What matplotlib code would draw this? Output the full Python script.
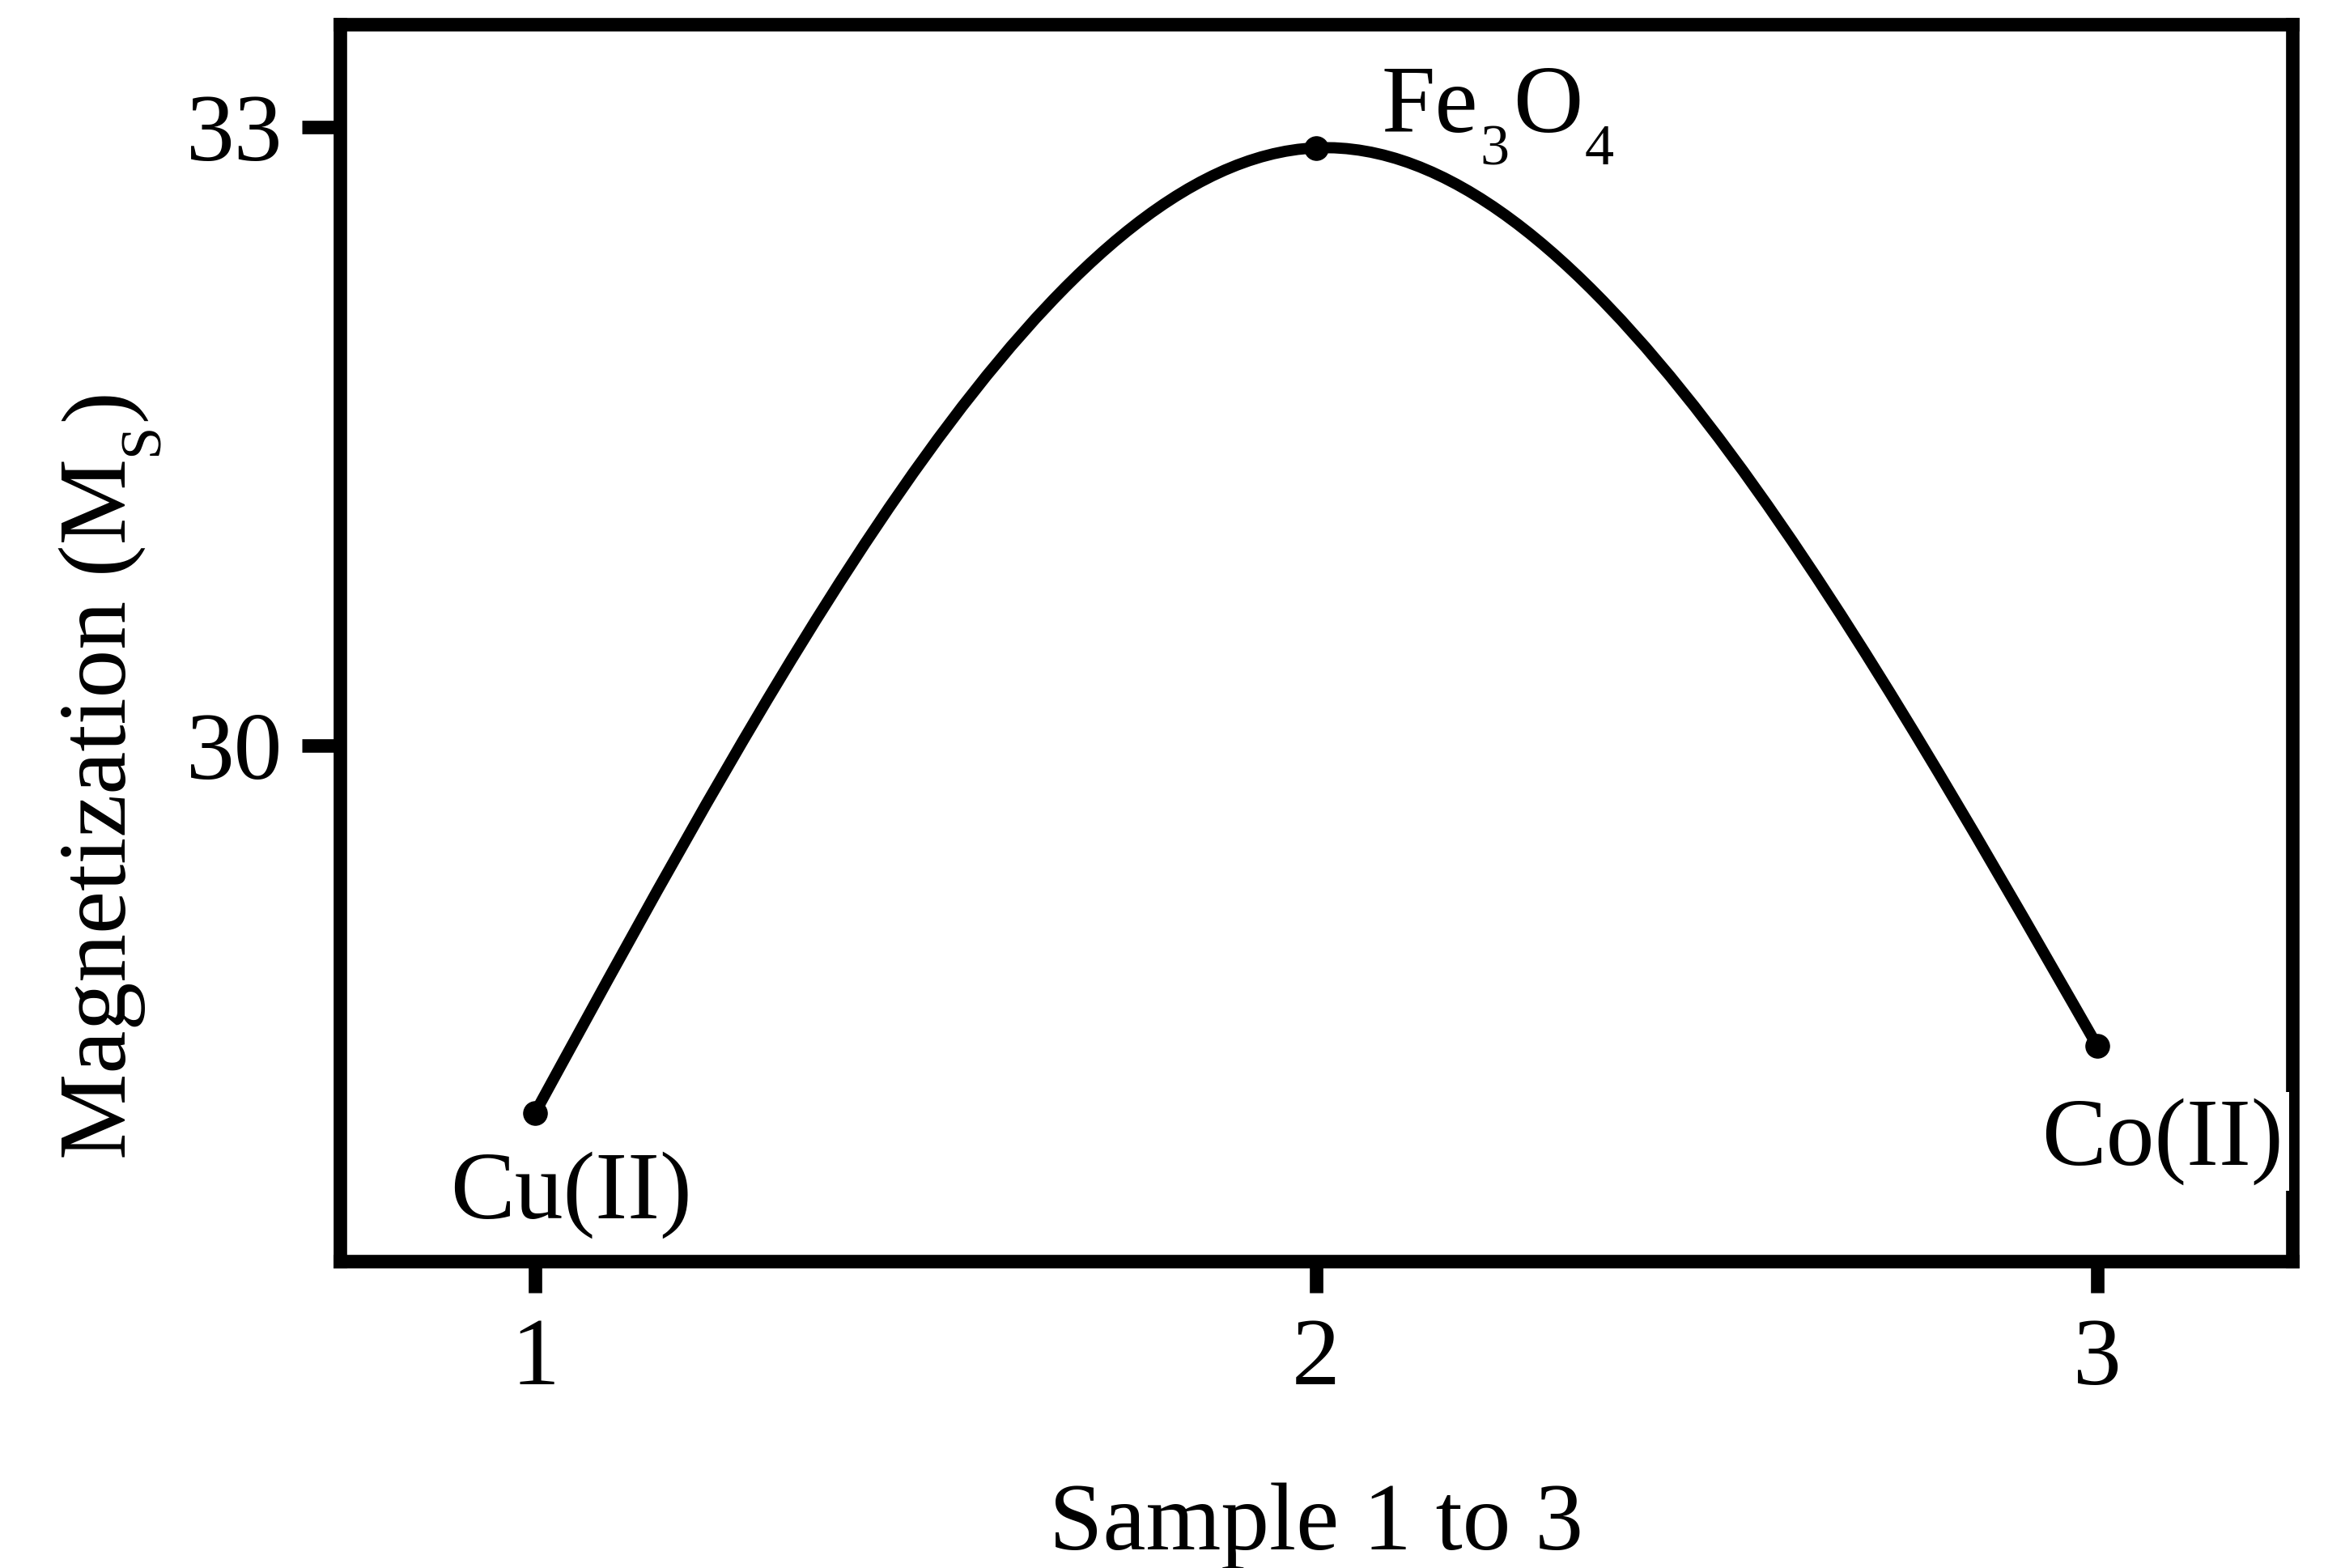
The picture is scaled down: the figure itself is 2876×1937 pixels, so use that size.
import numpy as np
import matplotlib
matplotlib.use("Agg")
import matplotlib.pyplot as plt
from matplotlib.path import Path
from matplotlib.patches import PathPatch

# data
samples = [1, 2, 3]
ms_values = [28.22, 32.90, 28.545]
# label pieces: (text, is_subscript)
point_labels = [
    [('Cu(II)', False)],
    [('Fe', False), ('3', True), ('O', False), ('4', True)],
    [('Co(II)', False)],
]
x_ticks = [1, 2, 3]
y_ticks = [30, 33]
x_title = 'Sample 1 to 3'
y_title = [('Magnetization (M', False), ('S', True), (')', False)]

FS = 86      # main font size
SUB_FS = 52  # subscript font size
SUB_DROP = 29  # subscript baseline drop, points

plt.rcParams['font.family'] = ['Liberation Serif', 'DejaVu Serif']
plt.rcParams['font.size'] = FS


def spline_path(x, y):
    # natural cubic spline through the points, written as bezier segments
    x = np.asarray(x, float)
    y = np.asarray(y, float)
    n = len(x)
    h = np.diff(x)
    d = np.diff(y) / h
    A = np.zeros((n, n))
    rhs = np.zeros(n)
    A[0, 0] = A[-1, -1] = 1
    for i in range(1, n - 1):
        A[i, i - 1] = h[i - 1]
        A[i, i] = 2 * (h[i - 1] + h[i])
        A[i, i + 1] = h[i]
        rhs[i] = 6 * (d[i] - d[i - 1])
    M = np.linalg.solve(A, rhs)
    verts = [(x[0], y[0])]
    codes = [Path.MOVETO]
    for i in range(n - 1):
        s0 = d[i] - h[i] * (2 * M[i] + M[i + 1]) / 6
        s1 = d[i] + h[i] * (M[i] + 2 * M[i + 1]) / 6
        verts += [(x[i] + h[i] / 3, y[i] + s0 * h[i] / 3),
                  (x[i + 1] - h[i] / 3, y[i + 1] - s1 * h[i] / 3),
                  (x[i + 1], y[i + 1])]
        codes += [Path.CURVE4] * 3
    return Path(verts, codes)


fig = plt.figure(figsize=(28.76, 19.37), dpi=100)
ax = fig.add_axes([0.146, 0.1957, 0.8387, 0.7889])

ax.add_patch(PathPatch(spline_path(samples, ms_values), facecolor='none',
                       edgecolor='black', lw=10, capstyle='round'))
ax.plot(samples, ms_values, 'o', color='black', ms=21)

# Cu(II) and Co(II) under their points
for i, (dx, dy) in [(0, (32, -94)), (2, (58, -106))]:
    t = ax.annotate(point_labels[i][0][0], (samples[i], ms_values[i]),
                    xytext=(dx, dy), textcoords='offset points',
                    ha='center', va='baseline', annotation_clip=False)
    if i == 2:
        # white patch behind the label nicks the right frame, like the original
        t.set_bbox(dict(boxstyle='square,pad=0.06', facecolor='white', edgecolor='none'))
        t.set_zorder(5)

# Fe3O4 built piece by piece so the subscripts drop like the original
xs, ys = samples[1], ms_values[1]
base_dy = 14
gaps = [0, 2, 3, 2]
prev = None
for (txt, sub), gap in zip(point_labels[1], gaps):
    fs = SUB_FS if sub else FS
    dy = base_dy - SUB_DROP if sub else base_dy
    if prev is None:
        prev = ax.annotate(txt, (xs, ys), xytext=(58, dy), textcoords='offset points',
                           ha='left', va='baseline', fontsize=fs, annotation_clip=False)
    else:
        prev = ax.annotate(txt, (1, ys), xycoords=(prev, 'data'), xytext=(gap, dy),
                           textcoords='offset points', ha='left', va='baseline',
                           fontsize=fs, annotation_clip=False)

ax.set_xlim(0.75, 3.25)
ax.set_ylim(27.5, 33.5)
ax.set_xticks(x_ticks)
ax.set_yticks(y_ticks)

for spine in ax.spines.values():
    spine.set_linewidth(12)
ax.tick_params(axis='x', direction='out', length=28, width=12, pad=22)
ax.tick_params(axis='y', direction='out', length=34, width=12, pad=17)

ax.set_xlabel(x_title)
ax.xaxis.set_label_coords(0.5, -0.233)
ax.xaxis.label.set_va('baseline')

# y title, rotated, also built piece by piece
ylab_x, ylab_y = -0.1099, 0.0825
prev = ax.text(ylab_x, ylab_y, y_title[0][0], transform=ax.transAxes, rotation=90,
               rotation_mode='anchor', ha='left', va='baseline')
for txt, sub in y_title[1:]:
    fs = SUB_FS if sub else FS
    prev = ax.annotate(txt, (ylab_x, 1), xycoords=('axes fraction', prev),
                       xytext=(SUB_DROP if sub else 0, 2), textcoords='offset points',
                       rotation=90, rotation_mode='anchor', ha='left', va='baseline',
                       fontsize=fs, annotation_clip=False)

fig.savefig('out.png', dpi=100, facecolor='white')
